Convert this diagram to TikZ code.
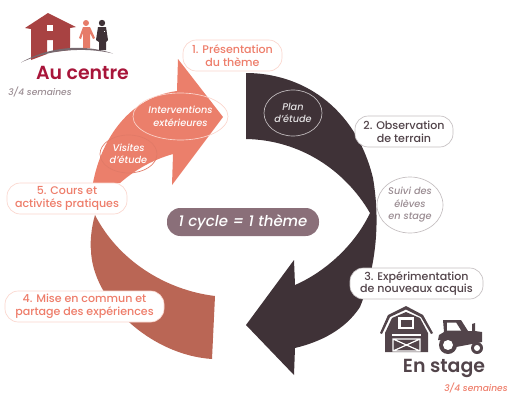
\documentclass[tikz,border=0pt]{standalone}
\usepackage{fontspec}
\setmainfont{Poppins}[BoldFont={Poppins Medium},BoldItalicFont={Poppins Medium Italic}]
\newfontfamily\semibold{Poppins SemiBold}
\usetikzlibrary{shapes.geometric}
\definecolor{salm}{HTML}{EB7F6B}
\definecolor{salmtxt}{HTML}{EE7D6A}
\definecolor{salmedge}{HTML}{FBD5CC}
\definecolor{brique}{HTML}{BA6655}
\definecolor{noir}{HTML}{3F3237}
\definecolor{noirtxt}{HTML}{52444A}
\definecolor{mauve}{HTML}{8A6F79}
\definecolor{gris}{HTML}{C4BEC0}
\definecolor{rouge}{HTML}{A8153A}
\definecolor{maison}{HTML}{A84242}
\definecolor{semg}{HTML}{9A8C92}
\def\px{0.75pt}
\tikzset{
 x=0.75pt,y=-0.75pt,
 labelbox/.style={rounded corners=10pt,fill=white,draw=#1,line width=.5pt,align=center,inner sep=0pt,font=\fontsize{8.3}{9.6}\selectfont\bfseries},
 oval/.style={ellipse,draw=#1,line width=.5pt,align=center,inner sep=0pt,font=\fontsize{7.3}{9.4}\selectfont\bfseries\itshape},
 weeks/.style={inner sep=0pt,font=\fontsize{6.8}{8}\selectfont\bfseries\itshape},
 title/.style={inner sep=0pt,font=\fontsize{14.2}{18}\semibold},
}
\begin{document}
\begin{tikzpicture}
\useasboundingbox (0,0) rectangle (518,400);
% fleche sombre
\fill[noir] (246,73) .. controls (300,73) and (355,105) .. (373,178) .. controls (381,225) and (375,270) .. (360,307) .. controls (345,330) and (320,342) .. (295,348) -- (294,375) -- (246,325) -- (294,260) -- (295,285) .. controls (325,272) and (355,245) .. (370,213) .. controls (345,170) and (300,140) .. (246,139) -- cycle;
% fleche saumon
\fill[salm] (93,183) .. controls (100,145) and (125,98) .. (177,91) -- (178,59) -- (223,117) -- (172,185) -- (173,154) .. controls (152,160) and (135,170) .. (120,183) -- cycle;
% forme brique
\fill[brique] (95,215) .. controls (91,228) and (90,245) .. (91,250) .. controls (92,300) and (150,355) .. (212,359) -- (215,296) .. controls (165,290) and (118,260) .. (95,215) -- cycle;
% maison
\fill[maison] (25,28) -- (48,13) -- (76,27) -- (70,28) -- (70,50) -- (53,52) -- (53,40) -- (47,40) -- (47,54) -- (31,60) -- (31,29) -- cycle;
\fill[white] (47,25) rectangle (52.5,31);
\fill[semg!60!noir] (21,62.5) .. controls (50,46) and (85,44) .. (113,53.5) .. controls (85,47) and (50,49) .. (21,62.5) -- cycle;
% personnages
\fill[salm!90!brique] (86,23) circle (3);
\fill[salm!90!brique] (83,27) -- (90,27) -- (95,38) -- (93,39) -- (90,33) -- (90,48) -- (83,48) -- (83,33) -- (81,39) -- (79,38) -- cycle;
\fill[noir] (102,23) circle (3.2);
\fill[noir] (98,27) -- (106,27) -- (108,40) -- (106,42) -- (106,50) -- (99,50) -- (99,42) -- (96,40) -- cycle;
\fill[white] (103.5,30.5) rectangle (105,32);
% grange
\fill[noirtxt] (380,333) -- (388,315) -- (406,306) -- (423,315) -- (433,333) -- (431,334) -- (421,317) -- (406,309.5) -- (390,317) -- (382,334) -- cycle;
\fill[noirtxt] (385,333) -- (392,318) -- (406,312) -- (420,318) -- (428,333) -- (428,352) -- (385,352) -- cycle;
\fill[white] (398,317) rectangle (414,329);
\fill[noirtxt] (400.5,319.5) rectangle (411.5,326.5);
\fill[white] (392,334) rectangle (421,336);
\draw[white,line width=.9pt] (393,339) rectangle (420,351) (393,339) -- (420,351) (393,351) -- (420,339);
% tracteur
\fill[noirtxt] (438,340) -- (439,335) -- (444,332) -- (443,320) -- (461,320) -- (468,331) -- (472,331) -- (472,324) -- (475,323) -- (475,331) -- (482,332) -- (482,342) -- (472,344) -- (456,347) -- (449,340) -- cycle;
\fill[white] (447,322.5) -- (456,322.5) -- (461,330.5) -- (447,330.5) -- cycle;
\fill[noirtxt] (448,345) circle (9);
\fill[white] (448,345) circle (5);
\fill[noirtxt] (477,348) circle (6);
\fill[white] (477,348) circle (3);
% noeuds
\node[oval=salmedge,text=white,minimum width=95*\px,minimum height=47*\px] (int) at (180.5,116.5) {Interventions\\extérieures};
\node[oval=salm!80!brique,text=white,minimum width=57*\px,minimum height=38*\px] (vis) at (128.5,154) {Visites\\d'étude};
\node[oval=gris,text=white!85!noir,minimum width=58*\px,minimum height=46*\px] (plan) at (293,113) {Plan\\d'étude};
\node[oval=gris,text=semg,fill=white,minimum width=66*\px,minimum height=56*\px] (suivi) at (410,205) {Suivi des\\élèves\\en stage};
\node[labelbox=salmedge,text=salmtxt,minimum width=99*\px,minimum height=31*\px] (n1) at (232.5,55.5) {1. Présentation\\du thème};
\node[labelbox=gris,text=noirtxt,minimum width=98*\px,minimum height=31*\px] (n2) at (404,131.5) {2. Observation\\de terrain};
\node[labelbox=gris,text=noirtxt,minimum width=133*\px,minimum height=31*\px] (n3) at (416.5,283.5) {3. Expérimentation\\de nouveaux acquis};
\node[labelbox=salmedge,text=salmtxt,minimum width=159*\px,minimum height=31*\px] (n4) at (84.5,306.5) {4. Mise en commun et\\partage des expériences};
\node[labelbox=salmedge,text=salmtxt,minimum width=120*\px,minimum height=31*\px] (n5) at (67,198.5) {5. Cours et\\activités pratiques};
\node[fill=mauve,text=white,rounded corners=10pt,minimum width=152*\px,minimum height=28*\px,inner sep=0pt,font=\fontsize{11.2}{13}\selectfont\bfseries\itshape] (cyc) at (243,222) {1 cycle = 1 thème};
\node[title,text=rouge] (ac) at (82.5,73) {Au centre};
\node[weeks,text=semg] (s1) at (40,92) {3/4 semaines};
\node[title,text=noirtxt] (es) at (444,368) {En stage};
\node[weeks,text=salmtxt] (s2) at (476,388) {3/4 semaines};
\end{tikzpicture}
\end{document}
